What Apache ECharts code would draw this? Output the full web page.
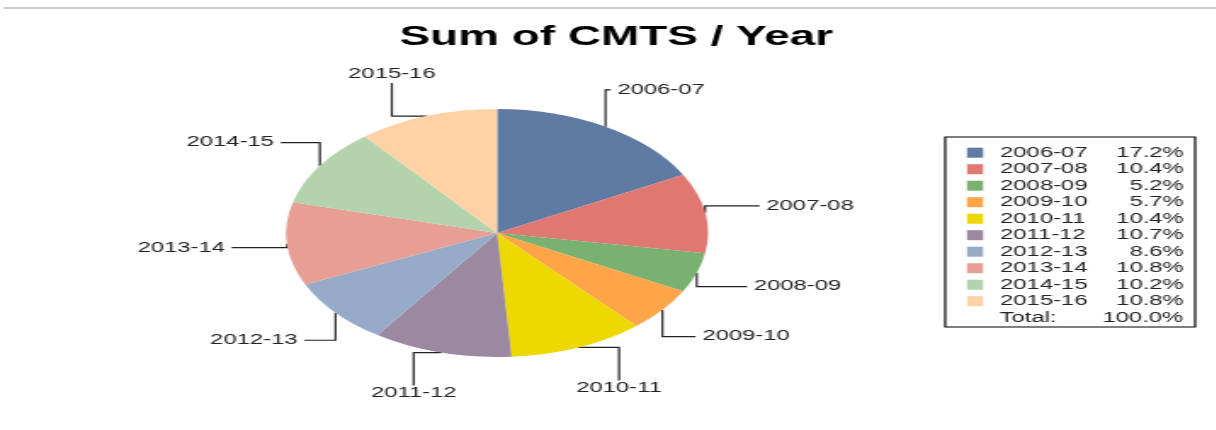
<!DOCTYPE html>
<html>
<head>
<meta charset="utf-8">
<title>Sum of CMTS / Year</title>
<script src="https://cdn.jsdelivr.net/npm/echarts@6/dist/echarts.min.js"></script>
<style>
  html, body { margin: 0; padding: 0; background: #fff; overflow: hidden; }
  /* the source picture is stretched sideways: draw it narrow, then widen the whole chart */
  #cmts { width: 715px; height: 430px; transform: scaleX(1.7); transform-origin: 0 0; }
</style>
</head>
<body>
<div id="cmts"></div>
<script>
var years = ['2006-07', '2007-08', '2008-09', '2009-10', '2010-11', '2011-12', '2012-13', '2013-14', '2014-15', '2015-16'];
var shares = [17.2, 10.4, 5.2, 5.7, 10.4, 10.7, 8.6, 10.8, 10.2, 10.8];
var colors = ['#5f7aa3', '#e07872', '#79b170', '#fea449', '#edd800', '#9b88a1', '#95abc8', '#e69e95', '#b3d3ac', '#fed2a4'];

var font = "'Liberation Sans', Arial, sans-serif";
var cx = 292.4, cy = 233, r = 124;

var chart = echarts.init(document.getElementById('cmts'));

var total = shares.reduce(function (a, b) { return a + b; }, 0);
// middle angle of each slice, clockwise from 12 o'clock
var midAngles = [];
var acc = 0;
shares.forEach(function (v) {
  midAngles.push((acc + v / 2) / total * 2 * Math.PI);
  acc += v;
});

// elbow label lines like the original: straight legs, text beside / above / below
function placeLabel(params) {
  var a = midAngles[params.dataIndex];
  var s = Math.sin(a), c = Math.cos(a);
  var ex = cx + r * s, ey = cy - r * c;
  var lx, ly;
  if (Math.abs(s) < 0.45) {
    lx = ex + 62 * s;
    ly = ey + (c > 0 ? -33 : 33);
    return {
      x: lx, y: c > 0 ? ly - 2 : ly + 1,
      align: 'center', verticalAlign: c > 0 ? 'bottom' : 'top',
      labelLinePoints: [[ex, ey], [lx, ey], [lx, ly]]
    };
  }
  var side = s > 0 ? 1 : -1;
  ly = ey - 43 * c;
  lx = ex + side * Math.max(3, 62 * (Math.abs(s) - 0.47));
  return {
    x: lx + side * 4, y: ly,
    align: side > 0 ? 'left' : 'right', verticalAlign: 'middle',
    labelLinePoints: [[ex, ey], [ex, ly], [lx, ly]]
  };
}

var pieData = years.map(function (y, i) {
  return { name: y, value: shares[i], itemStyle: { color: colors[i] } };
});

var option = {
  animation: false,
  title: {
    text: 'Sum of CMTS / Year',
    left: 230, top: 19,
    textStyle: { fontSize: 27, fontWeight: 'bold', color: '#000', fontFamily: font }
  },
  legend: {
    orient: 'vertical',
    left: 556, top: 137,
    padding: [8.7, 6.7, 18.8, 12.8],
    borderColor: '#000', borderWidth: 1.2,
    itemWidth: 9.5, itemHeight: 10, itemGap: 2.5,
    icon: 'rect',
    selectedMode: false,
    data: years,
    formatter: function (name) {
      var i = years.indexOf(name);
      return '{n|' + name + '}{p|' + shares[i].toFixed(1) + '%}';
    },
    textStyle: {
      fontSize: 14, color: '#222', fontFamily: font,
      rich: {
        n: { width: 58, padding: [0, 0, 0, 5], fontSize: 14, color: '#222', fontFamily: font },
        p: { width: 50, align: 'right', fontSize: 14, color: '#222', fontFamily: font }
      }
    }
  },
  graphic: [
    { type: 'line', shape: { x1: 2, y1: 8, x2: 715, y2: 8 }, style: { stroke: '#bdbdbd', lineWidth: 1.5 } },
    { type: 'text', x: 588, y: 318, style: { text: 'Total:', font: '14px ' + font, fill: '#222', verticalAlign: 'middle' } },
    { type: 'text', x: 696, y: 318, style: { text: total.toFixed(1) + '%', font: '14px ' + font, fill: '#222', align: 'right', verticalAlign: 'middle' } }
  ],
  series: [{
    type: 'pie',
    center: [cx, cy],
    radius: r,
    startAngle: 90,
    clockwise: true,
    data: pieData,
    itemStyle: { borderWidth: 0 },
    emphasis: { disabled: true },
    label: { formatter: '{b}', fontSize: 14, color: '#222', fontFamily: font },
    labelLine: { show: true, lineStyle: { color: '#222', width: 1.2 } },
    labelLayout: placeLabel
  }]
};

chart.setOption(option);
</script>
</body>
</html>
